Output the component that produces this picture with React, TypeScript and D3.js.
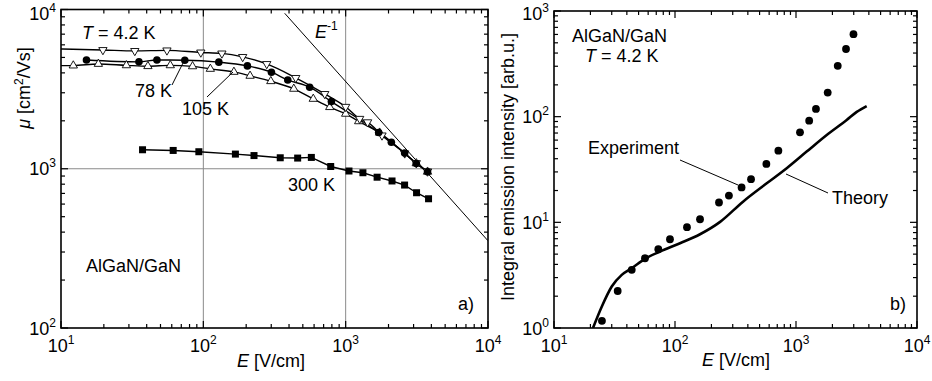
import React, { useEffect, useRef } from 'react'
import * as d3 from 'd3'

const W = 932
const H = 381

// a) mobility vs field, four temperatures
const fieldT42 = [19.7, 33, 55.5, 96, 135, 189, 279, 446, 713, 1000, 1254, 1426, 1800, 2600, 3133, 3760]
const muT42 = [5570, 5495, 5540, 5375, 5300, 5040, 4550, 3720, 2950, 2450, 2060, 1960, 1620, 1250, 1086, 962]
const lineStartT42 = 5650

const fieldT78 = [15.1, 35.3, 47.2, 74.1, 128.5, 204, 301, 392, 559, 794, 1705, 2094, 2596, 3134, 3760]
const muT78 = [4820, 4690, 4820, 4805, 4670, 4425, 4040, 3610, 3250, 2640, 1690, 1466, 1254, 1078, 957]

const fieldT105 = [12.2, 18.3, 28.8, 40.8, 58.6, 84, 112, 164, 213, 298, 432, 592, 773, 1000, 1234, 1733, 3134, 3760]
const muT105 = [4445, 4550, 4460, 4405, 4460, 4395, 4235, 4055, 3830, 3545, 3175, 2745, 2436, 2212, 1985, 1683, 1081, 957]
const lineStartT105 = 4440

const fieldT300 = [37.4, 61.4, 93, 168, 227, 347, 460, 574, 785, 1055, 1322, 1663, 2117, 2594, 3148, 3822]
const muT300 = [1316, 1303, 1279, 1236, 1210, 1172, 1167, 1178, 1033, 968, 944, 885, 838, 790, 707, 648]

// E^-1 guide: mu * E = const
const invConst = 3.53e6
const invFieldRange = [373, 10000]

// b) emission intensity vs field
const expField = [24.9, 33.6, 43.9, 56.5, 72.8, 90.9, 125.6, 161, 231, 279, 355, 425, 569, 715, 1079, 1285, 1462, 1828, 2213, 2590, 2986]
const expIntensity = [1.17, 2.24, 3.55, 4.57, 5.57, 6.92, 9.0, 10.7, 15.4, 17.9, 21.4, 25.6, 35.7, 47.7, 71.1, 91.6, 118.3, 169, 303, 437, 603]

const theoryField = [21.0, 24.8, 30.0, 36.3, 43.9, 56.5, 75.1, 110, 161, 236, 365, 573, 838, 1225, 1795, 2624, 3177, 3838]
const theoryIntensity = [1.0, 1.59, 2.47, 3.18, 3.68, 4.51, 5.28, 6.34, 7.71, 10.1, 15.7, 23.4, 32.5, 46.7, 67.1, 93, 111, 126]

const FONT = "'Liberation Sans', Arial, sans-serif"

type Sel = d3.Selection<SVGGElement, unknown, null, undefined>
type LogScale = d3.ScaleLogarithmic<number, number>

const zip = (xs: number[], ys: number[]) => xs.map((x, i) => [x, ys[i]] as [number, number])
const isMajor = (v: number) => Math.abs(Math.log10(v) - Math.round(Math.log10(v))) < 1e-6

// log-log frame with inside ticks on all four sides
function drawFrame(g: Sel, x: LogScale, y: LogScale) {
  const [x0, x1] = x.range()
  const [y0, y1] = y.range()

  x.ticks().forEach(v => {
    const px = x(v)
    const len = isMajor(v) ? 7 : 4
    g.append('line').attr('x1', px).attr('x2', px).attr('y1', y0).attr('y2', y0 - len)
      .attr('stroke', '#000').attr('stroke-width', 1.2)
    g.append('line').attr('x1', px).attr('x2', px).attr('y1', y1).attr('y2', y1 + len)
      .attr('stroke', '#000').attr('stroke-width', 1.2)
    if (isMajor(v)) {
      const t = g.append('text').attr('x', px).attr('y', 352).attr('text-anchor', 'middle')
        .style('font-size', '18px')
      t.append('tspan').text('10')
      t.append('tspan').attr('dy', -8).style('font-size', '12px').text(Math.round(Math.log10(v)))
    }
  })
  y.ticks().forEach(v => {
    const py = y(v)
    const len = isMajor(v) ? 7 : 4
    g.append('line').attr('x1', x0).attr('x2', x0 + len).attr('y1', py).attr('y2', py)
      .attr('stroke', '#000').attr('stroke-width', 1.2)
    g.append('line').attr('x1', x1).attr('x2', x1 - len).attr('y1', py).attr('y2', py)
      .attr('stroke', '#000').attr('stroke-width', 1.2)
    if (isMajor(v)) {
      // top label is pushed down a bit so its superscript stays on the page
      const t = g.append('text').attr('x', x0 - 5).attr('y', Math.max(py + 6.5, 20)).attr('text-anchor', 'end')
        .style('font-size', '18px')
      t.append('tspan').text('10')
      t.append('tspan').attr('dy', -8).style('font-size', '12px').text(Math.round(Math.log10(v)))
    }
  })

  g.append('rect').attr('x', x0).attr('y', y1).attr('width', x1 - x0).attr('height', y0 - y1)
    .attr('fill', 'none').attr('stroke', '#000').attr('stroke-width', 1.6)
}

export default function App() {
  const svgRef = useRef<SVGSVGElement>(null)

  useEffect(() => {
    if (!svgRef.current) return
    const svg = d3.select(svgRef.current)
    svg.selectAll('*').remove()

    const root = svg.append('g').style('font-family', FONT).attr('fill', '#000') as unknown as Sel

    // ---------- panel a) ----------
    const xA = d3.scaleLog().domain([10, 1e4]).range([61, 488])
    const yA = d3.scaleLog().domain([100, 1e4]).range([328, 9.5])

    svg.append('defs').append('clipPath').attr('id', 'clipA').append('rect')
      .attr('x', 61).attr('y', 9.5).attr('width', 427).attr('height', 318.5)

    const ga = root.append('g')

    // grid
    ;[100, 1000].forEach(v => {
      ga.append('line').attr('x1', xA(v)).attr('x2', xA(v)).attr('y1', yA(100)).attr('y2', yA(1e4))
        .attr('stroke', '#8a8a8a').attr('stroke-width', 1)
    })
    ga.append('line').attr('x1', xA(10)).attr('x2', xA(1e4)).attr('y1', yA(1000)).attr('y2', yA(1000))
      .attr('stroke', '#8a8a8a').attr('stroke-width', 1)

    const plotA = ga.append('g').attr('clip-path', 'url(#clipA)')

    // E^-1 guide
    plotA.append('line')
      .attr('x1', xA(invFieldRange[0])).attr('y1', yA(invConst / invFieldRange[0]))
      .attr('x2', xA(invFieldRange[1])).attr('y2', yA(invConst / invFieldRange[1]))
      .attr('stroke', '#000').attr('stroke-width', 1)

    const smooth = d3.line<[number, number]>().x(d => xA(d[0])).y(d => yA(d[1])).curve(d3.curveMonotoneX)
    const straight = d3.line<[number, number]>().x(d => xA(d[0])).y(d => yA(d[1]))

    const s42 = zip(fieldT42, muT42)
    const s78 = zip(fieldT78, muT78)
    const s105 = zip(fieldT105, muT105)
    const s300 = zip(fieldT300, muT300)

    const curveStyle = (p: d3.Selection<SVGPathElement, unknown, null, undefined>) =>
      p.attr('fill', 'none').attr('stroke', '#000').attr('stroke-width', 1.4)

    curveStyle(plotA.append('path').attr('d', smooth([[10, lineStartT42], ...s42])))
    curveStyle(plotA.append('path').attr('d', smooth([[10, lineStartT105], ...s105])))
    curveStyle(plotA.append('path').attr('d', smooth(s78)))
    curveStyle(plotA.append('path').attr('d', straight(s300)))

    const tri = d3.symbol().type(d3.symbolTriangle).size(30)()

    plotA.selectAll('.t105').data(s105).enter().append('path')
      .attr('d', tri)
      .attr('transform', d => `translate(${xA(d[0])},${yA(d[1])})`)
      .attr('fill', '#fff').attr('stroke', '#000').attr('stroke-width', 0.9)

    plotA.selectAll('.t42').data(s42).enter().append('path')
      .attr('d', tri)
      .attr('transform', d => `translate(${xA(d[0])},${yA(d[1])}) rotate(180)`)
      .attr('fill', '#fff').attr('stroke', '#000').attr('stroke-width', 0.9)

    plotA.selectAll('.c78').data(s78).enter().append('circle')
      .attr('cx', d => xA(d[0])).attr('cy', d => yA(d[1])).attr('r', 3.8).attr('fill', '#000')

    plotA.selectAll('.s300').data(s300).enter().append('rect')
      .attr('x', d => xA(d[0]) - 3.5).attr('y', d => yA(d[1]) - 3.5)
      .attr('width', 7).attr('height', 7).attr('fill', '#000')

    drawFrame(ga, xA, yA)

    // labels
    const ta = ga.append('text').attr('x', 82).attr('y', 39).style('font-size', '18px')
    ta.append('tspan').style('font-style', 'italic').text('T')
    ta.append('tspan').text(' = 4.2 K')

    const ei = ga.append('text').attr('x', 315).attr('y', 38).style('font-size', '18px')
    ei.append('tspan').style('font-style', 'italic').text('E')
    ei.append('tspan').attr('dy', -8).style('font-size', '12px').text('-1')

    ga.append('text').attr('x', 135).attr('y', 97).style('font-size', '18px').text('78 K')
    ga.append('line').attr('x1', 172).attr('y1', 85).attr('x2', 183).attr('y2', 63)
      .attr('stroke', '#000').attr('stroke-width', 1)
    ga.append('text').attr('x', 182).attr('y', 115).style('font-size', '18px').text('105 K')
    ga.append('line').attr('x1', 207).attr('y1', 97).attr('x2', 233).attr('y2', 72)
      .attr('stroke', '#000').attr('stroke-width', 1)
    ga.append('text').attr('x', 288).attr('y', 190.5).style('font-size', '18px').text('300 K')
    ga.append('text').attr('x', 86).attr('y', 272).style('font-size', '18px').text('AlGaN/GaN')
    ga.append('text').attr('x', 458).attr('y', 310).style('font-size', '18px').text('a)')

    const xla = ga.append('text').attr('x', 271).attr('y', 367).attr('text-anchor', 'middle')
      .style('font-size', '18px')
    xla.append('tspan').style('font-style', 'italic').text('E')
    xla.append('tspan').text(' [V/cm]')

    const yla = ga.append('text').attr('transform', 'translate(30,88) rotate(-90)')
      .attr('text-anchor', 'middle').style('font-size', '18px')
    yla.append('tspan').style('font-style', 'italic').text('μ')
    yla.append('tspan').text(' [cm')
    yla.append('tspan').attr('dy', -7).style('font-size', '12px').text('2')
    yla.append('tspan').attr('dy', 7).text('/Vs]')

    // ---------- panel b) ----------
    const xB = d3.scaleLog().domain([10, 1e4]).range([554, 917])
    const yB = d3.scaleLog().domain([1, 1000]).range([328, 11])

    svg.select('defs').append('clipPath').attr('id', 'clipB').append('rect')
      .attr('x', 554).attr('y', 11).attr('width', 363).attr('height', 317)

    const gb = root.append('g')
    const plotB = gb.append('g').attr('clip-path', 'url(#clipB)')

    const theoryLine = d3.line<[number, number]>().x(d => xB(d[0])).y(d => yB(d[1])).curve(d3.curveMonotoneX)
    plotB.append('path').attr('d', theoryLine(zip(theoryField, theoryIntensity)))
      .attr('fill', 'none').attr('stroke', '#000').attr('stroke-width', 2.6)

    plotB.selectAll('.exp').data(zip(expField, expIntensity)).enter().append('circle')
      .attr('cx', d => xB(d[0])).attr('cy', d => yB(d[1])).attr('r', 3.9).attr('fill', '#000')

    drawFrame(gb, xB, yB)

    gb.append('text').attr('x', 572).attr('y', 42).style('font-size', '18px').text('AlGaN/GaN')
    const tb = gb.append('text').attr('x', 585).attr('y', 61.5).style('font-size', '18px')
    tb.append('tspan').style('font-style', 'italic').text('T')
    tb.append('tspan').text(' = 4.2 K')

    gb.append('text').attr('x', 588).attr('y', 154).style('font-size', '18px').text('Experiment')
    gb.append('line').attr('x1', 680).attr('y1', 160).attr('x2', 738).attr('y2', 185)
      .attr('stroke', '#000').attr('stroke-width', 1)
    gb.append('text').attr('x', 832).attr('y', 204).style('font-size', '18px').text('Theory')
    gb.append('line').attr('x1', 828).attr('y1', 193).attr('x2', 786).attr('y2', 174)
      .attr('stroke', '#000').attr('stroke-width', 1)
    gb.append('text').attr('x', 890).attr('y', 310).style('font-size', '18px').text('b)')

    const xlb = gb.append('text').attr('x', 736).attr('y', 366).attr('text-anchor', 'middle')
      .style('font-size', '18px')
    xlb.append('tspan').style('font-style', 'italic').text('E')
    xlb.append('tspan').text(' [V/cm]')

    gb.append('text').attr('transform', 'translate(514,167) rotate(-90)')
      .attr('text-anchor', 'middle').style('font-size', '18px')
      .text('Integral emission intensity [arb.u.]')
  }, [])

  return (
    <svg
      ref={svgRef}
      width={W}
      height={H}
      style={{ position: 'absolute', left: 0, top: 0, background: '#fff' }}
    />
  )
}
